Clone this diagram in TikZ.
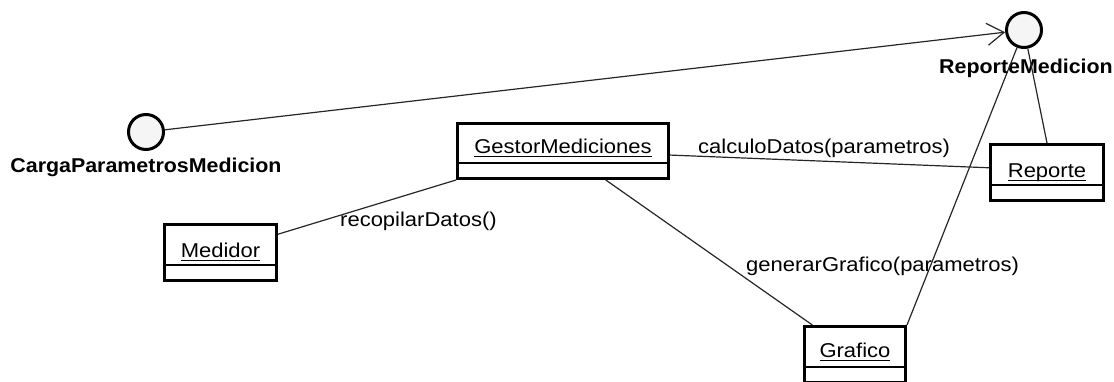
\documentclass[tikz,border=0pt]{standalone}
\usepackage{fontspec}
\setmainfont{Liberation Sans}[FakeStretch=1.1]
\newfontfamily\lblfont{Liberation Sans}[FakeStretch=1.07]
\usetikzlibrary{arrows.meta,calc}

% underlined class name (instance notation)
\newcommand\clsul[1]{\setbox0=\hbox{#1}\rlap{\rule[-4pt]{\wd0}{1.5pt}}\box0}
\newcommand\txtsize{\fontsize{20}{24}\selectfont}

\begin{document}
\begin{tikzpicture}[x=1pt,y=-1pt,
  cls/.style={draw=black, line width=3pt, fill=white, inner sep=0pt},
  clsname/.style={font=\txtsize, anchor=base, inner sep=0pt},
  iface/.style={circle, draw=black, line width=3pt, fill=black!4, minimum size=35pt, inner sep=0pt},
  ifacename/.style={font=\lblfont\bfseries\txtsize, anchor=base, inner sep=0pt},
  link/.style={draw=black!85, line width=1.2pt},
  msg/.style={font=\txtsize, anchor=base west, inner sep=0pt},
  sep/.style={draw=black, line width=1.5pt}]
\useasboundingbox (0,0) rectangle (1114,381);
\clip (0,0) rectangle (1114,381);

% interfaces
\node[iface] (cpm) at (146,132) {};
\node[iface] (rm) at (1024,30) {};
\node[ifacename] (cpmlbl) at (146,172) {CargaParametrosMedicion};
\node[ifacename] (rmlbl) at (1026,73) {ReporteMedicion};

% objects
\node[cls, minimum width=211pt, minimum height=55pt] (gestor) at (563,151) {};
\node[cls, minimum width=112pt, minimum height=56pt] (medidor) at (220.5,252.5) {};
\node[cls, minimum width=113pt, minimum height=56pt] (reporte) at (1047,172.5) {};
\node[cls, minimum width=101pt, minimum height=56pt] (grafico) at (855,354.5) {};

\foreach \b in {gestor,medidor,reporte,grafico}
  \draw[sep] ($(\b.south west)+(1.5,-17)$) -- ($(\b.south east)+(-1.5,-17)$);

\node[clsname] (gestorname) at ($(gestor.north)+(0,31)$) {\clsul{GestorMediciones}};
\node[clsname] (medidorname) at ($(medidor.north)+(0,34)$) {\clsul{Medidor}};
\node[clsname] (reportename) at ($(reporte.north)+(0,34)$) {\clsul{Reporte}};
\node[clsname] (graficoname) at ($(grafico.north)+(0,32)$) {\clsul{Grafico}};

% links
\draw[link, -{Straight Barb[length=17pt,width=22pt]}] (cpm) -- (rm);
\draw[link] ($(medidor.north east)!0.19!(medidor.south east)$) -- (gestor.south west);
\draw[link] ($(gestor.north east)!0.57!(gestor.south east)$) -- ($(reporte.north west)!0.42!(reporte.south west)$);
\draw[link] ($(gestor.south west)!0.70!(gestor.south east)$) -- ($(grafico.north west)!0.09!(grafico.north east)$);
\draw[link] (grafico.north east) -- (rm);
\draw[link] (reporte.north) -- (rm);

% messages
\node[msg] (m1) at (340,226) {recopilarDatos()};
\node[msg] (m2) at (698,153) {calculoDatos(parametros)};
\node[msg] (m3) at (746,271) {generarGrafico(parametros)};
\end{tikzpicture}
\end{document}
